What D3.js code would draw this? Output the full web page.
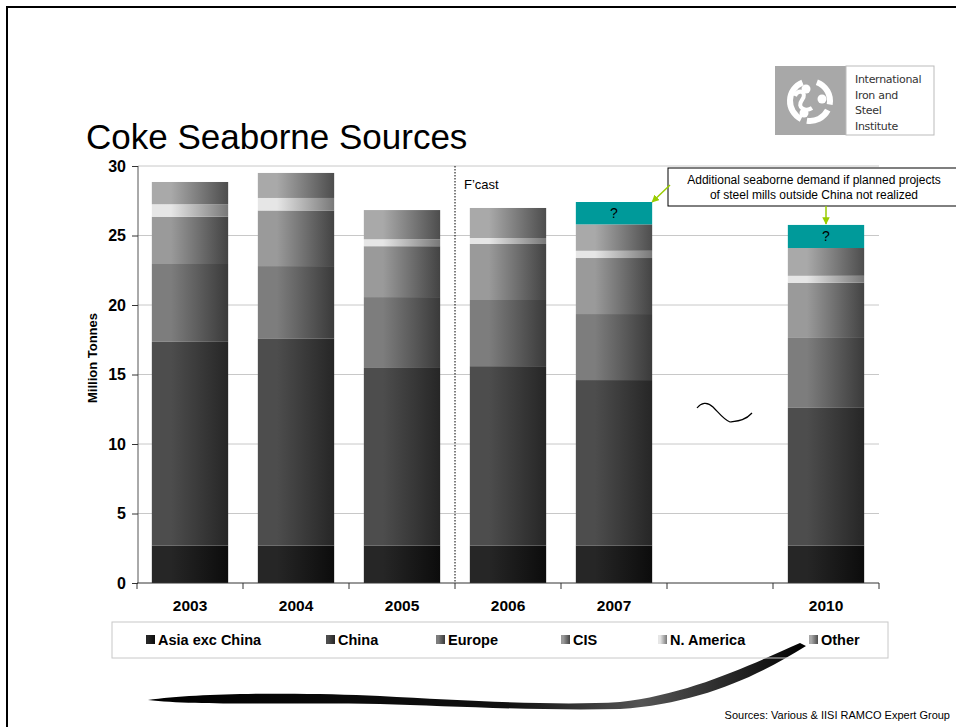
<!DOCTYPE html>
<html><head><meta charset="utf-8">
<script src="https://cdn.jsdelivr.net/npm/d3@7"></script>
<style>body{margin:0;background:#fff}svg{display:block;font-family:Arial,"Liberation Sans",sans-serif}</style>
</head><body><svg id="c" width="956" height="727"></svg>
<script>
const categories=["2003","2004","2005","2006","2007","gap","2010"];
const tickLabels=["2003","2004","2005","2006","2007","","2010"];
const seriesNames=["Asia exc China","China","Europe","CIS","N. America","Other"];
const asiaExChina=[2.7,2.7,2.7,2.7,2.7,0,2.7];
const china=[14.65,14.9,12.77,12.9,11.9,0,9.9];
const europe=[5.6,5.2,5.1,4.76,4.75,0,5.03];
const cis=[3.4,4.0,3.66,4.03,4.03,0,3.97];
const nAmerica=[0.9,0.9,0.5,0.43,0.52,0,0.5];
const other=[1.6,1.8,2.1,2.16,1.9,0,2.0];
const additional=[0,0,0,0,1.61,0,1.66];
const yTicks=[0,5,10,15,20,25,30];
const gradLeft=["#262626","#4d4d4d","#7d7d7d","#9a9a9a","#e6e6e6","#a9a9a9"];
const gradRight=["#0c0c0c","#262626","#3a3a3a","#434343","#787878","#4d4d4d"];

const seriesVals=[asiaExChina,china,europe,cis,nAmerica,other];
const table=categories.map((c,i)=>{const o={cat:c};seriesNames.forEach((s,j)=>o[s]=seriesVals[j][i]);o.extra=additional[i];return o;});

const svg=d3.select("#c");
const defs=svg.append("defs");
seriesNames.forEach((s,j)=>{
  const g=defs.append("linearGradient").attr("id","g"+j).attr("x1",0).attr("x2",1).attr("y1",0).attr("y2",0);
  g.append("stop").attr("offset",0).attr("stop-color",gradLeft[j]);
  g.append("stop").attr("offset",0.25).attr("stop-color",gradLeft[j]);
  g.append("stop").attr("offset",1).attr("stop-color",gradRight[j]);
});
const sw=defs.append("linearGradient").attr("id","sw").attr("x1",0).attr("x2",1);
sw.append("stop").attr("offset",0).attr("stop-color","#000");
sw.append("stop").attr("offset",0.55).attr("stop-color","#111");
sw.append("stop").attr("offset",0.75).attr("stop-color","#555");
sw.append("stop").attr("offset",1).attr("stop-color","#000");
const mk=defs.append("marker").attr("id","arr").attr("viewBox","0 0 10 10").attr("refX",9).attr("refY",5)
  .attr("markerWidth",5).attr("markerHeight",5).attr("orient","auto");
mk.append("path").attr("d","M0,0L10,5L0,10z").attr("fill","#99cc00");

// frame
svg.append("path").attr("d","M7,740V7H960").attr("fill","none").attr("stroke","#000").attr("stroke-width",2);

const x=d3.scaleBand().domain(categories).range([137,879]).paddingInner(0.28).paddingOuter(0.14);
const xOuter=d3.scaleBand().domain(categories).range([137,879]);
const y=d3.scaleLinear().domain([0,30]).range([583,166]);

// gridlines
svg.append("g").selectAll("line").data(yTicks.filter(d=>d>0)).join("line")
  .attr("x1",138).attr("x2",879).attr("y1",d=>y(d)).attr("y2",d=>y(d))
  .attr("stroke","#c8c8c8").attr("stroke-width",1);

// dotted forecast line
svg.append("line").attr("x1",xOuter("2006")).attr("x2",xOuter("2006")).attr("y1",y(30)).attr("y2",y(0))
  .attr("stroke","#000").attr("stroke-width",1).attr("stroke-dasharray","1.5,1.5");

// bars
const stack=d3.stack().keys(seriesNames)(table);
svg.append("g").selectAll("g").data(stack).join("g").attr("fill",(d,j)=>`url(#g${j})`)
  .selectAll("rect").data(d=>d.filter(p=>p[1]>p[0])).join("rect")
  .attr("x",d=>x(d.data.cat)).attr("width",x.bandwidth())
  .attr("y",d=>y(d[1])).attr("height",d=>y(d[0])-y(d[1]));

// additional (?) boxes
const extraData=table.filter(d=>d.extra>0).map(d=>({cat:d.cat,base:seriesNames.reduce((a,s)=>a+d[s],0),v:d.extra}));
svg.append("g").selectAll("rect").data(extraData).join("rect")
  .attr("x",d=>x(d.cat)).attr("width",x.bandwidth())
  .attr("y",d=>y(d.base+d.v)).attr("height",d=>y(d.base)-y(d.base+d.v)).attr("fill","#009a9a");
svg.append("g").selectAll("text").data(extraData).join("text")
  .attr("x",d=>x(d.cat)+x.bandwidth()/2).attr("y",d=>y(d.base+d.v/2)+5)
  .attr("text-anchor","middle").attr("font-size",14).attr("fill","#000").text("?");

// y axis
const ya=svg.append("g").attr("transform","translate(138,0)")
  .call(d3.axisLeft(y).tickValues(yTicks).tickSize(6).tickPadding(6));
ya.select(".domain").attr("stroke","#555").attr("d","M0,"+y(30)+"V"+y(0));
ya.selectAll(".tick line").attr("stroke","#333");
ya.selectAll("text").attr("font-size",16).attr("font-weight","bold").attr("fill","#000").attr("font-family","Arial,'Liberation Sans',sans-serif");

// x axis
const xa=svg.append("g").attr("transform","translate(0,583)")
  .call(d3.axisBottom(xOuter).tickSize(0).tickPadding(17).tickFormat((d,i)=>tickLabels[i]));
xa.select(".domain").attr("stroke","#333").attr("d","M137,0H879");
xa.selectAll("text").attr("font-size",15.5).attr("font-weight","bold").attr("fill","#000").attr("font-family","Arial,'Liberation Sans',sans-serif");
svg.append("g").selectAll("line").data(categories.map(c=>xOuter(c)).concat([879])).join("line")
  .attr("x1",d=>d).attr("x2",d=>d).attr("y1",583).attr("y2",589).attr("stroke","#333");

// y title
svg.append("text").attr("transform","translate(97,358) rotate(-90)").attr("text-anchor","middle")
  .attr("font-size",13).attr("font-weight","bold").text("Million Tonnes");

// title
svg.append("text").attr("x",86).attr("y",149).attr("font-size",35).attr("fill","#000").text("Coke Seaborne Sources");

// F'cast
svg.append("text").attr("x",464).attr("y",189).attr("font-size",13).text("F\u2019cast");

// annotation
svg.append("rect").attr("x",668).attr("y",168).attr("width",300).attr("height",38).attr("fill","#fff").attr("stroke","#000").attr("stroke-width",1);
svg.append("text").attr("x",814).attr("y",184).attr("text-anchor","middle").attr("font-size",12).text("Additional seaborne demand if planned projects");
svg.append("text").attr("x",814).attr("y",199).attr("text-anchor","middle").attr("font-size",12).text("of steel mills outside China not realized");
svg.append("line").attr("x1",670).attr("y1",185).attr("x2",x("2007")+x.bandwidth()).attr("y2",y(extraData[0].base+extraData[0].v))
  .attr("stroke","#99cc00").attr("stroke-width",1.5).attr("marker-end","url(#arr)");
svg.append("line").attr("x1",x("2010")+x.bandwidth()/2).attr("y1",206).attr("x2",x("2010")+x.bandwidth()/2).attr("y2",y(extraData[1].base+extraData[1].v)-1)
  .attr("stroke","#99cc00").attr("stroke-width",1.5).attr("marker-end","url(#arr)");

// squiggle
svg.append("path").attr("d","M697,408C701,403 707,401 713,407C719,413 724,420 730,422C736,421 745,421 752,413")
  .attr("fill","none").attr("stroke","#000").attr("stroke-width",1.2);

// swoosh
svg.append("path").attr("d","M148,700C200,693 300,692 380,696C470,701 560,706 620,702C690,694 750,665 800,643L806,646C760,675 700,704 620,709C540,711 450,706 380,704C300,702 200,706 148,700Z")
  .attr("fill","url(#sw)");

// legend
svg.append("rect").attr("x",112).attr("y",622).attr("width",776).attr("height",36).attr("fill","none").attr("stroke","#c8c8c8");
const legX=[146,326,436,561,658,809];
const lg=svg.append("g").selectAll("g").data(seriesNames).join("g").attr("transform",(d,i)=>`translate(${legX[i]},640)`);
lg.append("rect").attr("x",0).attr("y",-5).attr("width",9).attr("height",9).attr("fill",(d,i)=>`url(#g${i})`);
lg.append("text").attr("x",12).attr("y",5).attr("font-size",14.5).attr("font-weight","bold").text(d=>d);

// logo
const logo=svg.append("g");
logo.append("rect").attr("x",775).attr("y",66).attr("width",71).attr("height",69).attr("fill","#a8a8a8");
logo.append("rect").attr("x",846).attr("y",66).attr("width",88).attr("height",69).attr("fill","#fff").attr("stroke","#bbb");
const arc=d3.arc();
[[0.35,1.75],[2.05,3.3],[3.6,5.9]].forEach(a=>{
  logo.append("path").attr("transform","translate(810,101)").attr("d",arc({innerRadius:17,outerRadius:23,startAngle:a[0],endAngle:a[1]})).attr("fill","#fff");
});
[[806,89],[822,99],[804,113]].forEach(p=>logo.append("circle").attr("cx",p[0]).attr("cy",p[1]).attr("r",4.5).attr("fill","#fff"));
logo.append("path").attr("d","M795,96C798,88 808,92 802,100C796,108 806,112 812,108").attr("fill","none").attr("stroke","#fff").attr("stroke-width",4);
["International","Iron and","Steel","Institute"].forEach((t,i)=>logo.append("text").attr("x",855).attr("y",83+i*15.5)
  .attr("font-size",11).attr("fill","#333").attr("font-family","'DejaVu Sans',sans-serif").attr("letter-spacing",-0.3).text(t));

// sources
svg.append("text").attr("x",950).attr("y",719).attr("text-anchor","end").attr("font-size",11).text("Sources: Various & IISI RAMCO Expert Group");
</script></body></html>
